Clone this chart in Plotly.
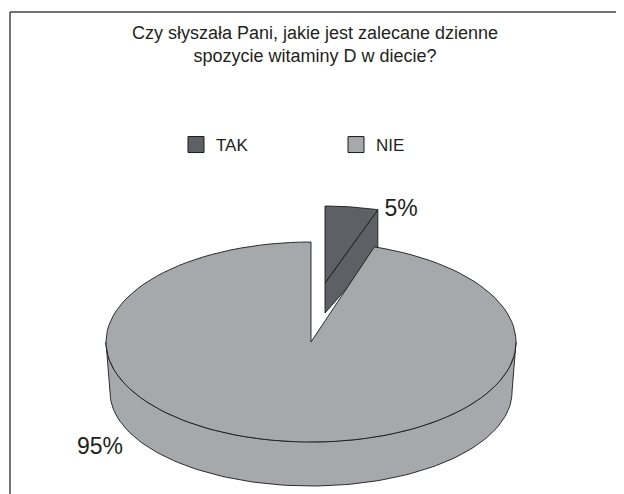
import numpy as np
import plotly.graph_objects as go

# ---- data ----
categories = ["TAK", "NIE"]
values = [5, 95]
title_lines = ["Czy słyszała Pani, jakie jest zalecane dzienne", "spozycie witaminy D w diecie?"]

# ---- style ----
colors = ["#5f6065", "#a7a8ac"]
edge = "#1a1a1a"
FONT = "Liberation Sans, Arial, sans-serif"
W, H = 624, 494
OFF = 8  # page body margin in the browser
# ellipse geometry (top face, bottom face) per slice: (cx, cy, rx, ry)
geom = {
    "TAK": {"top": (325, 283, 171, 77), "bot": (325, 313, 171, 63)},
    "NIE": {"top": (311, 342, 205, 100), "bot": (311, 392, 201, 94)},
}
label_pos = {"TAK": (401, 210), "NIE": (100, 448)}
draw_order = ["TAK", "NIE"]  # back to front


def px(p):
    return (p - OFF) / W


def py(p):
    return 1 - (p - OFF) / H


total = float(sum(values))
angles = {}
acc = 0.0
for c, v in zip(categories, values):
    a0 = acc / total * 360.0
    acc += v
    a1 = acc / total * 360.0
    angles[c] = (a0, a1)


def pt(e, th):
    cx, cy, rx, ry = e
    t = np.radians(th)
    return cx + rx * np.sin(t), cy - ry * np.cos(t)


def arc(e, a0, a1, n=120):
    th = np.linspace(a0, a1, n)
    x, y = pt(e, th)
    return list(x), list(y)


fig = go.Figure()


def poly(xs, ys, color):
    fig.add_trace(go.Scatter(
        x=xs + [xs[0]], y=ys + [ys[0]], mode="lines", fill="toself",
        fillcolor=color, line=dict(color=edge, width=0.9),
        hoverinfo="skip", showlegend=False))


for c in draw_order:
    i = categories.index(c)
    col = colors[i]
    a0, a1 = angles[c]
    top, bot = geom[c]["top"], geom[c]["bot"]
    # outer wall (front half only)
    w0, w1 = max(a0, 90), min(a1, 270)
    if w1 > w0:
        tx, ty = arc(top, w0, w1)
        bx, by = arc(bot, w1, w0)
        poly(tx + bx, ty + by, col)
    # cut faces facing the viewer
    for a, is_start in ((a0, True), (a1, False)):
        normal = (a - 90) if is_start else (a + 90)
        if np.cos(np.radians(normal - 180)) > 1e-6:
            ox, oy = pt(top, a)
            bx2, by2 = pt(bot, a)
            poly([top[0], float(ox), float(bx2), bot[0]],
                 [top[1], float(oy), float(by2), bot[1]], col)
    # top face
    ax, ay = arc(top, a0, a1)
    poly([top[0]] + ax, [top[1]] + ay, col)

# percentage labels
for c, v in zip(categories, values):
    lx, ly = label_pos[c]
    fig.add_trace(go.Scatter(
        x=[lx], y=[ly], mode="text", text=[f"{round(v / total * 100)}%"],
        textposition="middle center", textfont=dict(size=23, color="#231f20", family=FONT),
        hoverinfo="skip", showlegend=False))

# legend entries
for c, col in zip(categories, colors):
    fig.add_trace(go.Scatter(
        x=[None], y=[None], mode="markers", name=c,
        marker=dict(symbol="square", size=16, color=col, line=dict(color=edge, width=1))))

fig.update_layout(
    width=W, height=H,
    margin=dict(l=0, r=0, t=0, b=0),
    paper_bgcolor="white", plot_bgcolor="white",
    xaxis=dict(range=[OFF, W + OFF], visible=False, fixedrange=True),
    yaxis=dict(range=[H + OFF, OFF], visible=False, fixedrange=True),
    title=dict(text="<br>".join(title_lines), x=px(315), xanchor="center",
               y=py(39), yanchor="middle",
               font=dict(size=18, color="#231f20", family=FONT)),
    legend=dict(orientation="h", x=px(176), xanchor="left", y=py(145), yanchor="middle",
                font=dict(size=17, color="#231f20", family=FONT),
                entrywidth=115, entrywidthmode="pixels", bgcolor="rgba(0,0,0,0)"),
    shapes=[
        dict(type="line", xref="paper", yref="paper", x0=px(10), x1=1, y0=py(12), y1=py(12),
             line=dict(color="#444444", width=1.5)),
        dict(type="line", xref="paper", yref="paper", x0=px(10), x1=px(10), y0=0, y1=py(12),
             line=dict(color="#444444", width=1.5)),
    ],
)

fig.write_html("out.html")
